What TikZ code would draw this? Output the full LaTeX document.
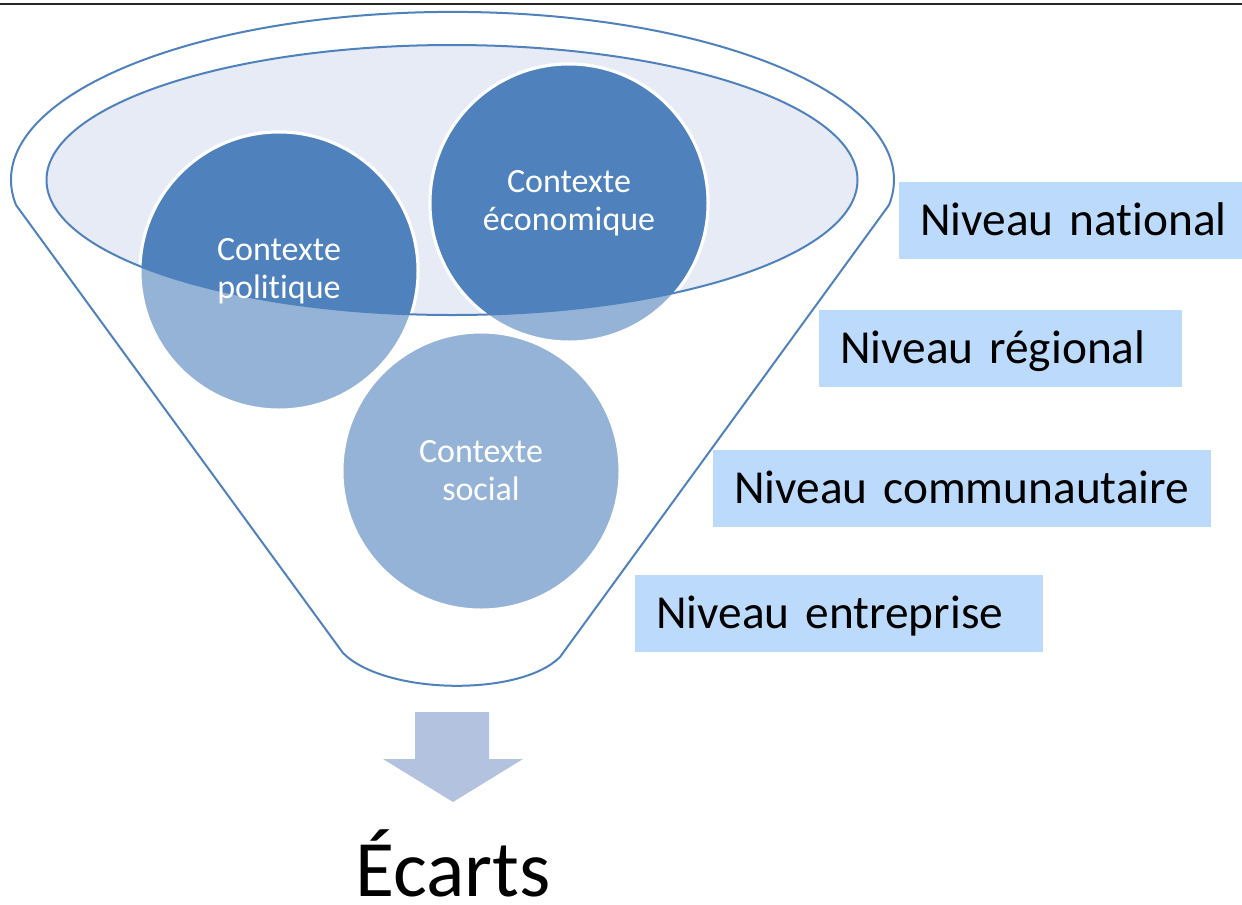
\documentclass[tikz,border=0pt]{standalone}
\usepackage{fontspec}
\setmainfont{Carlito}[Ligatures=NoCommon]
\definecolor{bleu}{RGB}{79,129,189}
\definecolor{bleuclair}{RGB}{149,179,215}
\definecolor{fondellipse}{RGB}{230,235,245}
\definecolor{fondniveau}{RGB}{187,218,252}
\definecolor{fleche}{RGB}{179,195,223}
\pgfkeys{/pixel/.code=\tikzset{x={(0.75pt,0)},y={(0,-0.75pt)}}}
\newcommand{\contextes}[1]{%
  \foreach \cx/\cy in {279/271,569/203,481/471} {%
    \path[#1] (\cx,\cy) circle (139);%
  }}
\tikzset{
  contour/.style={draw=bleu,line width=1.5pt},
  disque/.style={draw=white,line width=2.25pt},
  contexte/.style={text=white,align=center,font=\fontsize{25.5}{28.5}\selectfont},
  niveau/.style={fill=fondniveau,anchor=north west,align=left,inner xsep=15.75pt,inner ysep=0pt,
    minimum height=57.75pt,text height=22.5pt,text depth=0pt,font=\fontsize{35.5}{40}\selectfont},
  ecart/.style={anchor=base,font=\fontsize{60}{66}\selectfont}
}
\begin{document}
\begin{tikzpicture}[/pixel]
    \useasboundingbox (0,0) rectangle (1242,904);
    \draw[line width=1.5pt,black!85] (0,4) -- (1242,4);

    \fill[fondellipse] (452,180) ellipse [x radius=405.5, y radius=135];
    \contextes{fill=bleuclair,disque}
    \begin{scope}
      \clip (452,180) ellipse [x radius=405.5, y radius=135];
      \contextes{fill=bleu,disque}
    \end{scope}
    \draw[contour] (452,180) ellipse [x radius=405.5, y radius=135];

    \draw[contour] (16,205) arc [start angle=171.4, end angle=368.6, x radius=441.5, y radius=168]
      -- (560,657) .. controls (520,697) and (385,695) .. (343,653) -- cycle;

    \node[contexte] (politique) at (279,271) {Contexte\\politique};
    \node[contexte] (economique) at (569,203) {Contexte\\économique};
    \node[contexte] (social) at (481,471) {Contexte\\social};

    \foreach \nom/\x/\y/\w/\texte in {national/899/182/360/Niveau national,
        regional/819/310/363/Niveau régional,
        communautaire/713/450/498/Niveau communautaire,
        entreprise/635/575/408/Niveau entreprise} {
      \pgfmathsetmacro\largeur{(\w-42)*0.75}
      \node[niveau,text width=\largeur pt] (\nom) at (\x,\y) {\texte};
    }

    \fill[fleche] (415,712) -- (489,712) -- (489,759) -- (523,759) -- (453,802)
      -- (383,759) -- (415,759) -- cycle;
    \node[ecart] (ecarts) at (453,896) {Écarts};
\end{tikzpicture}
\end{document}
